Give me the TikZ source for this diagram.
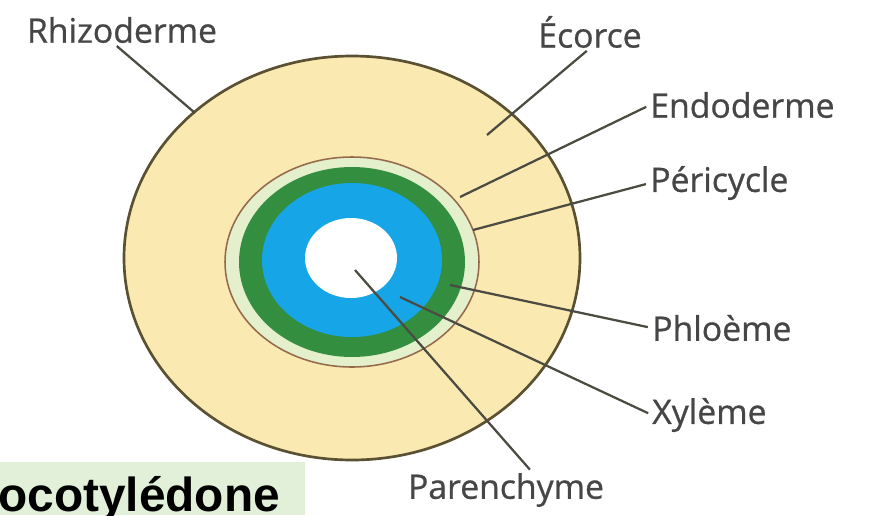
\documentclass[tikz,border=0pt]{standalone}
\usepackage{fontspec}
\setmainfont{Open Sans}
\newfontfamily\labelfont{Open Sans}[FakeBold=0.8]
\newfontfamily\arialfont{Liberation Sans}
\usetikzlibrary{positioning}

\definecolor{cortex}{RGB}{250,234,178}
\definecolor{rim}{RGB}{90,80,50}
\definecolor{phloem}{RGB}{52,142,64}
\definecolor{xylem}{RGB}{22,166,232}
\definecolor{peri}{RGB}{228,240,204}
\definecolor{endo}{RGB}{150,105,75}
\definecolor{leader}{RGB}{75,75,65}
\definecolor{labelgrey}{RGB}{70,70,70}
\definecolor{titlebox}{RGB}{226,239,217}

\begin{document}
\begin{tikzpicture}[x=0.025cm, y=-0.025cm,
  every node/.style={font=\labelfont\fontsize{24}{28}\selectfont, text=labelgrey, inner sep=0pt},
  leader/.style={draw=leader, line width=1.6pt, shorten <=3pt},
  tag/.style={anchor=west}]
  \useasboundingbox (0,0) rectangle (876,515);
  \clip (0,0) rectangle (876,515);

  % root section, from the outside in
  \draw[fill=cortex, draw=rim, line width=1.9pt] (352,258) ellipse (228 and 202);
  \draw[fill=peri, draw=endo, line width=1.1pt] (352,262) ellipse (127 and 105);
  \fill[phloem] (352,262) ellipse (113 and 95);
  \fill[xylem] (352,260) ellipse (90 and 77);
  \fill[white] (351,258) ellipse (46 and 40);

  % labels
  \node (rhizo) at (122,30) {Rhizoderme};
  \node (ecorce) at (590,32) {Écorce};
  \node[tag] (endo) at (650,105) {Endoderme};
  \node[tag] (peri) at (650,183) {Péricycle};
  \node[tag] (phloeme) at (652,328) {Phloème};
  \node[tag] (xyleme) at (652,415) {Xylème};
  \node (paren) at (506,490) {Parenchyme};

  % where each leader ends
  \coordinate (rhizo tip) at (195,113);
  \coordinate (ecorce tip) at (487,135);
  \coordinate (endo tip) at (460,197);
  \coordinate (peri tip) at (473,230);
  \coordinate (phloeme tip) at (450,285);
  \coordinate (xyleme tip) at (400,297);
  \coordinate (paren tip) at (355,270);

  \draw[leader] ([xshift=-6pt]rhizo.south) -- (rhizo tip);
  \draw[leader] (ecorce.south) -- (ecorce tip);
  \draw[leader] (endo.west) -- (endo tip);
  \draw[leader] (peri.west) -- (peri tip);
  \draw[leader] (phloeme.west) -- (phloeme tip);
  \draw[leader] (xyleme.west) -- (xyleme tip);
  \draw[leader] ([xshift=19pt]paren.north) -- (paren tip);

  % title box, bottom left
  \fill[titlebox] (0,462) rectangle (305,515);
  \node[font=\arialfont\bfseries\fontsize{34}{38}\selectfont, text=black, anchor=base west] (titre) at (-2,511) {ocotylédone};
\end{tikzpicture}
\end{document}
